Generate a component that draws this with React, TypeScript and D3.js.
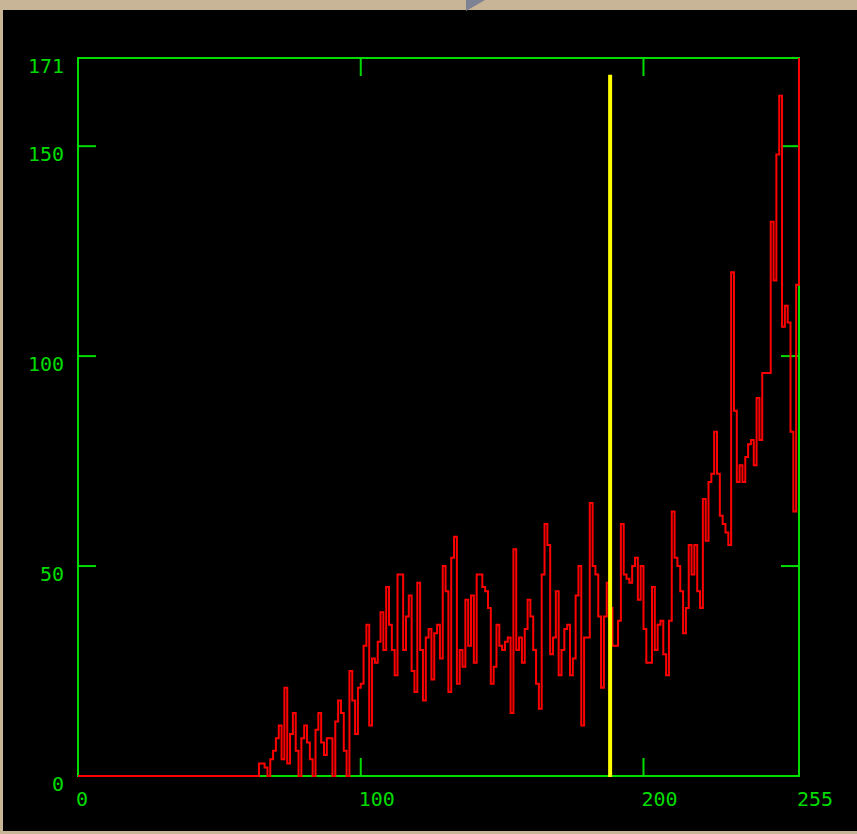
import React from 'react';
import * as d3 from 'd3';

// histogram counts for bins 0..255
const zeroBins: number[] = new Array(64).fill(0);
const lowBins: number[] = [
  3, 3, 2, 0, 4, 6, 9, 12, 4, 21, 3, 10, 15, 6, 0, 9, 12, 8, 4, 0,
  11, 15, 8, 5, 9, 9, 0, 13, 18, 15, 6, 0, 25, 18, 10, 21, 22, 31, 36, 12,
  28, 27, 32, 39, 30, 45, 36, 30, 24,
];
const midBins: number[] = [
  48, 48, 30, 38, 43, 25, 20, 46, 30, 18, 33, 35, 23, 34, 36, 28, 50, 44, 20, 52,
  57, 22, 30, 26, 42, 31, 43, 27, 48, 48, 45, 44, 40, 22, 26, 36, 31, 30, 32, 33,
  15, 54, 30, 33, 27, 35, 42, 38, 30, 22,
];
const upperBins: number[] = [
  16, 48, 60, 55, 29, 33, 44, 24, 30, 35, 36, 24, 28, 43, 50, 12, 33, 33, 65, 50,
  48, 38, 21, 38, 46, 40, 31, 31, 37, 60, 48, 47, 46, 50, 52, 42, 50, 35, 27, 27,
  45, 30, 36, 37, 29, 24, 37, 63, 52, 50,
];
const topBins: number[] = [
  44, 34, 40, 55, 48, 55, 44, 40, 66, 56, 70, 72, 82, 72, 62, 60, 58, 55, 120, 87,
  70, 74, 70, 76, 79, 80, 74, 90, 80, 96, 96, 96, 132, 118, 148, 162, 107, 112, 108, 82,
  63, 117, 171,
];
const counts: number[] = [...zeroBins, ...lowBins, ...midBins, ...upperBins, ...topBins];

const xTicks: number[] = [100, 200];
const xLabels: number[] = [0, 100, 200, 255];
const yTicks: number[] = [50, 100, 150];
const yLabels: number[] = [0, 50, 100, 150, 171];

const threshold = 188.2;
const thresholdTop = 167;

const W = 857;
const H = 834;
const GREEN = '#00dc00';
const FONT = '"DejaVu Sans Mono", monospace';

export default function App() {
  const x = d3.scaleLinear().domain([0, 255]).range([78, 799]);
  const y = d3.scaleLinear().domain([0, 171]).range([776, 58]);
  const tick = 18;

  const line = d3
    .line<number>()
    .x((_, i) => x(i))
    .y((d) => y(d))
    .curve(d3.curveStepAfter);

  const [x0, x1] = x.range();
  const [y0, y1] = y.range();

  return (
    <svg
      width={W}
      height={H}
      style={{ position: 'absolute', left: 0, top: 0, display: 'block' }}
    >
      <rect x={0} y={0} width={W} height={H} fill="#c8b497" />
      <rect x={3} y={10} width={W - 3} height={821} fill="#000" />
      <polygon points="466,0 485,0 466,11" fill="#7d8394" />

      {/* frame */}
      <rect
        x={x0}
        y={y1}
        width={x1 - x0}
        height={y0 - y1}
        fill="none"
        stroke={GREEN}
        strokeWidth={2}
      />
      {xTicks.map((t) => (
        <g key={'xt' + t} stroke={GREEN} strokeWidth={2}>
          <line x1={x(t)} x2={x(t)} y1={y0} y2={y0 - tick} />
          <line x1={x(t)} x2={x(t)} y1={y1} y2={y1 + tick} />
        </g>
      ))}
      {yTicks.map((t) => (
        <g key={'yt' + t} stroke={GREEN} strokeWidth={2}>
          <line x1={x0} x2={x0 + tick} y1={y(t)} y2={y(t)} />
          <line x1={x1} x2={x1 - tick} y1={y(t)} y2={y(t)} />
        </g>
      ))}

      {/* histogram */}
      <path d={line(counts) || ''} fill="none" stroke="#ff0000" strokeWidth={2} />

      {/* threshold marker */}
      <line
        x1={x(threshold)}
        x2={x(threshold)}
        y1={y(thresholdTop)}
        y2={y0 + 1}
        stroke="#ffff00"
        strokeWidth={4}
      />

      {yLabels.map((t) => (
        <text
          key={'yl' + t}
          x={64}
          y={y(t) + 15}
          textAnchor="end"
          fill={GREEN}
          fontFamily={FONT}
          fontSize={20}
        >
          {t}
        </text>
      ))}
      {xLabels.map((t) => (
        <text
          key={'xl' + t}
          x={x(t) - 2}
          y={806}
          fill={GREEN}
          fontFamily={FONT}
          fontSize={20}
        >
          {t}
        </text>
      ))}
    </svg>
  );
}
